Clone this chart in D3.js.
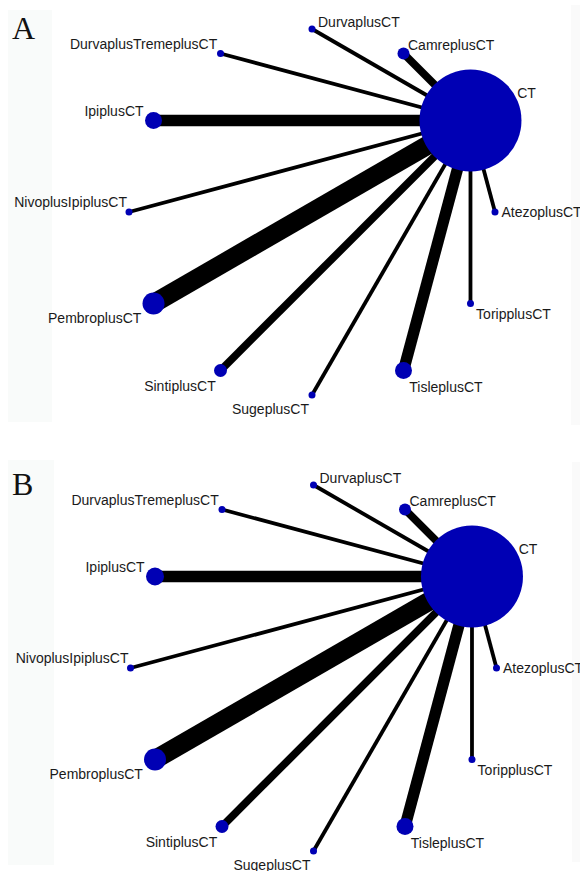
<!DOCTYPE html>
<html>
<head>
<meta charset="utf-8">
<script src="https://cdn.jsdelivr.net/npm/d3@7"></script>
<style>
	body { margin: 0; background: #fff; }
	.labels { font-family: "Liberation Sans", Arial, sans-serif; font-size: 14px; fill: #1a1a1a; }
	.panelTag { font-family: "Liberation Serif", "Times New Roman", serif; font-size: 32px; fill: #111; }
</style>
</head>
<body>
<script>
//treatments, in the order the circle layout places them
var treatments = ["AtezoplusCT", "CT", "CamreplusCT", "DurvaplusCT", "DurvaplusTremeplusCT",
	"IpiplusCT", "NivoplusIpiplusCT", "PembroplusCT", "SintiplusCT", "SugeplusCT",
	"TisleplusCT", "ToripplusCT"];

//every comparison is against CT
var comparisons = ["AtezoplusCT", "CamreplusCT", "DurvaplusCT", "DurvaplusTremeplusCT",
	"IpiplusCT", "NivoplusIpiplusCT", "PembroplusCT", "SintiplusCT", "SugeplusCT",
	"TisleplusCT", "ToripplusCT"];

//number of studies per comparison (line width)
var studiesA = [1, 2, 1, 1, 3, 1, 5, 2, 1, 3, 1];
var studiesB = [1, 2, 1, 1, 3, 1, 5, 2, 1, 3, 1];

//node size (point radius units)
var sizeA = [3.5, 51, 6, 3.5, 3.5, 8.5, 3.5, 11, 6.5, 3.5, 8.5, 3.5];
var sizeB = [3.5, 51, 6, 3.5, 3.5, 9, 3.5, 11, 6.5, 3.5, 8.5, 3.5];

var panels = ["A", "B"];

window.onload = function(){

	var w = 580, h = 871;

	var svg = d3.select("body")
		.append("svg")
		.attr("width", w)
		.attr("height", h);

	//faint strips left over from the pasted figure
	svg.append("rect").attr("x", 8).attr("y", 10).attr("width", 44).attr("height", 412).style("fill", "#f9fbfa");
	svg.append("rect").attr("x", 8).attr("y", 460).attr("width", 46).attr("height", 405).style("fill", "#f9fbfa");
	svg.append("rect").attr("x", 571).attr("y", 5).attr("width", 9).attr("height", 420).style("fill", "#fafafa");
	svg.append("rect").attr("x", 572).attr("y", 462).attr("width", 8).attr("height", 400).style("fill", "#fafafa");

	drawNetwork(svg, panels[0], studiesA, sizeA, 312, 212);
	drawNetwork(svg, panels[1], studiesB, sizeB, 313.5, 668);

	function drawNetwork(svg, tag, studies, sizes, cx, cy){

		var g = svg.append("g").attr("class", "panel" + tag);

		//index around the circle -> angle (screen coords, counter-clockwise)
		var angle = d3.scaleLinear()
			.domain([0, treatments.length])
			.range([0, -2 * Math.PI]);

		var radius = 183; //layout circle radius

		var size = d3.scaleLinear().domain([0, 51]).range([0, 51]);
		var width = d3.scaleLinear().domain([0, 1]).range([0, 3.8]);

		var nodes = treatments.map(function(t, i){
			var a = angle(i);
			return {
				name: t,
				a: a,
				x: cx + radius * Math.cos(a),
				y: cy + radius * Math.sin(a),
				r: size(sizes[i])
			};
		});
		var byName = {};
		nodes.forEach(function(n){ byName[n.name] = n; });

		var edges = comparisons.map(function(c, i){
			return {source: byName["CT"], target: byName[c], n: studies[i]};
		});

		//edges
		g.selectAll(".edge")
			.data(edges)
			.enter()
			.append("line")
			.attr("class", "edge")
			.attr("x1", function(d){ return d.source.x; })
			.attr("y1", function(d){ return d.source.y; })
			.attr("x2", function(d){ return d.target.x; })
			.attr("y2", function(d){ return d.target.y; })
			.style("stroke", "#000")
			.style("stroke-width", function(d){ return width(d.n); });

		//nodes
		g.selectAll(".node")
			.data(nodes)
			.enter()
			.append("circle")
			.attr("class", "node")
			.attr("cx", function(d){ return d.x; })
			.attr("cy", function(d){ return d.y; })
			.attr("r", function(d){ return d.r; })
			.style("fill", "#0000b4");

		//labels, pushed outward from each node
		var eps = 1e-6;
		g.selectAll(".labels")
			.data(nodes)
			.enter()
			.append("text")
			.attr("class", "labels")
			.attr("x", function(d){
				var c = Math.cos(d.a);
				var off = (d.r + 3) * c;
				if (Math.abs(c) < eps) off = (Math.sin(d.a) > 0) ? -3 : 6;
				if (Math.abs(Math.sin(d.a)) < eps && c < 0) off = -2;
				return d.x + off;
			})
			.attr("y", function(d){
				var s = Math.sin(d.a), c = Math.cos(d.a);
				var ay = d.y + (d.r + 3) * s;
				if (s > eps) return ay + 12;
				if (s < -eps) return ay + (c > 0 ? 4 : 1);
				return c > 0 ? ay + 5 : ay - 5;
			})
			.attr("text-anchor", function(d){
				var c = Math.cos(d.a);
				if (c > eps) return "start";
				if (c < -eps) return "end";
				return Math.sin(d.a) > 0 ? "end" : "start";
			})
			.text(function(d){ return d.name; });

		//panel letter
		svg.append("text")
			.attr("class", "panelTag")
			.attr("x", 12)
			.attr("y", cy - 173)
			.text(tag);
	}
};
</script>
</body>
</html>
